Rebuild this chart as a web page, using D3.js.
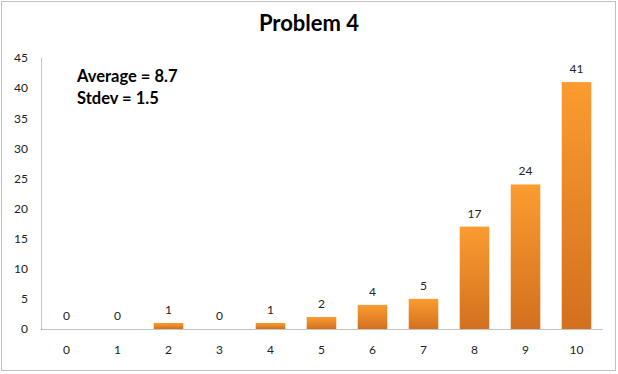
<!DOCTYPE html>
<html>
<head>
<meta charset="utf-8">
<script src="https://cdn.jsdelivr.net/npm/d3@7"></script>
<style>
  body { margin: 0; background: #fff; }
  text { font-family: Lato, "Open Sans", sans-serif; }
</style>
</head>
<body>
<div id="plot"></div>
<script>
// data
const scores = ["0", "1", "2", "3", "4", "5", "6", "7", "8", "9", "10"];
const counts = [0, 0, 1, 0, 1, 2, 4, 5, 17, 24, 41];
const yTicks = [0, 5, 10, 15, 20, 25, 30, 35, 40, 45];
const title = "Problem 4";
const notes = ["Average = 8.7", "Stdev = 1.5"];

const W = 618, H = 374;
const margin = { top: 58, bottom: 45, right: 16, left: 41 };
const width = W - margin.left - margin.right;
const height = H - margin.top - margin.bottom;

const svg = d3.select("#plot")
  .append("svg")
    .attr("width", W)
    .attr("height", H);

// gradient for bars
const grad = svg.append("defs").append("linearGradient")
    .attr("id", "barGrad")
    .attr("x1", 0).attr("y1", 0).attr("x2", 0).attr("y2", 1);
grad.append("stop").attr("offset", "0%").attr("stop-color", "#fa9c30");
grad.append("stop").attr("offset", "100%").attr("stop-color", "#d3701f");

// outer dashed frame
svg.append("rect")
    .attr("x", 1.5).attr("y", 1.5)
    .attr("width", 614).attr("height", 369)
    .attr("fill", "none")
    .attr("stroke", "#808080")
    .attr("stroke-dasharray", "1,1");

svg.append("text")
    .attr("x", 309).attr("y", 31)
    .attr("text-anchor", "middle")
    .attr("font-size", 22)
    .attr("font-weight", "bold")
    .attr("fill", "#000")
    .text(title);

const g = svg.append("g")
    .attr("transform", `translate(${margin.left},${margin.top})`);

const x = d3.scaleBand()
    .domain(scores)
    .range([0, width])
    .paddingInner(0.42)
    .paddingOuter(0.21);

const y = d3.scaleLinear()
    .domain([0, 45])
    .range([height, 0]);

// y axis
const yAxis = g.append("g")
    .call(d3.axisLeft(y).tickValues(yTicks).tickSize(0).tickPadding(13));
yAxis.select(".domain")
    .attr("stroke", "#888")
    .attr("stroke-dasharray", "1,1");
yAxis.selectAll("text")
    .attr("font-size", 12)
    .attr("fill", "#222")
    .style("font-family", "Lato, 'Open Sans', sans-serif");

// x axis
const xAxis = g.append("g")
    .attr("transform", `translate(0,${height})`)
    .call(d3.axisBottom(x).tickSize(0).tickPadding(16));
xAxis.select(".domain")
    .attr("stroke", "#888")
    .attr("stroke-dasharray", "1,1");
xAxis.selectAll("text")
    .attr("font-size", 12)
    .attr("fill", "#222")
    .style("font-family", "Lato, 'Open Sans', sans-serif");

// bars
g.selectAll(".bar")
  .data(counts)
  .join("rect")
    .attr("class", "bar")
    .attr("x", (d, i) => x(scores[i]))
    .attr("y", d => y(d))
    .attr("width", x.bandwidth())
    .attr("height", d => height - y(d))
    .attr("fill", "url(#barGrad)");

// value labels
g.selectAll(".lbl")
  .data(counts)
  .join("text")
    .attr("class", "lbl")
    .attr("x", (d, i) => x(scores[i]) + x.bandwidth() / 2)
    .attr("y", d => y(d) - 9)
    .attr("text-anchor", "middle")
    .attr("font-size", 12)
    .attr("fill", "#222")
    .text(d => d);

// notes
svg.selectAll(".note")
  .data(notes)
  .join("text")
    .attr("class", "note")
    .attr("x", 77)
    .attr("y", (d, i) => 82 + i * 22)
    .attr("font-size", 16.5)
    .attr("font-weight", "bold")
    .attr("fill", "#000")
    .text(d => d);
</script>
</body>
</html>
